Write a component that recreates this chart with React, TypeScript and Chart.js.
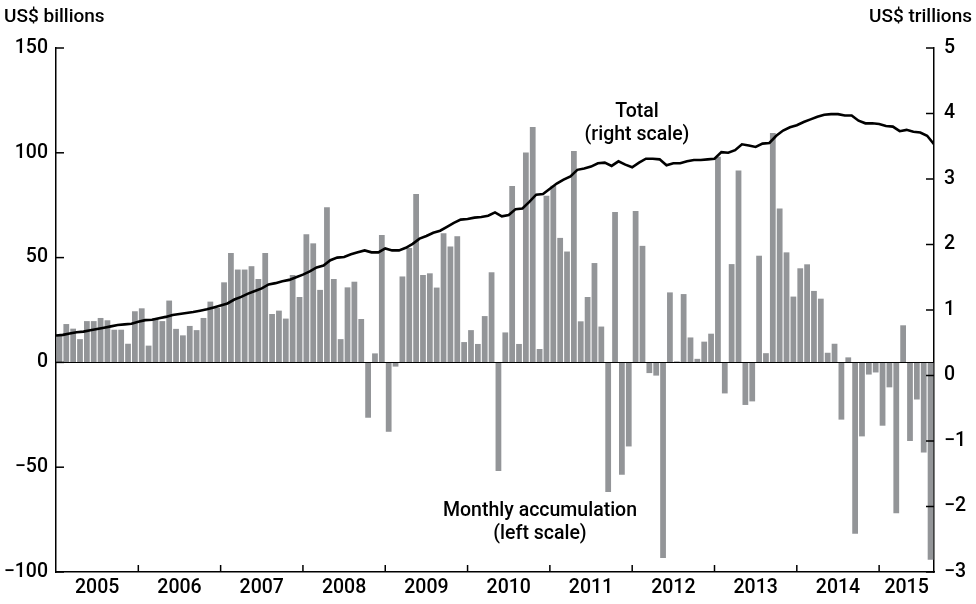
import React, { useEffect, useRef } from "react";
import { Chart, registerables } from "chart.js";

Chart.register(...registerables);

// Year labels (x axis); data starts Jan 2005, ends Aug 2015
const years = ["2005", "2006", "2007", "2008", "2009", "2010", "2011", "2012", "2013", "2014", "2015"];

// Monthly accumulation, US$ billions (left scale), Jan 2005 .. Aug 2015
const monthly2005 = [12.7, 18.3, 16.1, 11.1, 19.7, 19.7, 21.2, 20.1, 15.6, 15.6, 8.9, 24.4];
const monthly2006 = [25.8, 8.0, 21.0, 19.7, 29.5, 16.0, 12.9, 17.4, 15.4, 21.2, 29.0, 26.0];
const monthly2007 = [38.2, 52.2, 44.3, 44.3, 45.9, 39.8, 52.2, 23.1, 24.7, 20.9, 41.7, 31.2];
const monthly2008 = [61.1, 56.8, 34.6, 74.0, 39.8, 11.1, 35.8, 38.5, 20.7, -26.4, 4.3, 60.8];
const monthly2009 = [-33.1, -2.0, 41.0, 54.6, 80.3, 41.7, 42.5, 35.7, 61.6, 55.3, 60.2, 9.7];
const monthly2010 = [15.4, 8.8, 22.1, 43.0, -51.8, 14.3, 84.2, 8.8, 100.2, 112.3, 6.4, 79.5];
const monthly2011 = [84.3, 59.4, 52.9, 100.9, 19.6, 31.2, 47.4, 17.1, -61.8, 71.7, -53.6, -40.1];
const monthly2012 = [72.2, 55.6, -5.1, -6.3, -93.3, 33.4, 0.5, 32.6, 11.9, 1.7, 9.9, 13.7];
const monthly2013 = [98.1, -14.8, 46.9, 91.6, -20.3, -18.6, 50.9, 4.4, 109.4, 73.4, 52.5, 31.4];
const monthly2014 = [44.9, 46.8, 34.1, 30.4, 4.6, 8.9, -27.3, 2.4, -81.7, -35.3, -5.8, -4.8];
const monthly2015 = [-30.2, -11.9, -72.0, 17.7, -37.5, -17.7, -43.0, -94.2];

// Total reserves, US$ trillions (right scale): level at end of Dec 2004, then month-end levels
const totalStart = 0.61;
const total2005 = [0.62, 0.64, 0.66, 0.67, 0.69, 0.71, 0.73, 0.75, 0.77, 0.78, 0.79, 0.82];
const total2006 = [0.845, 0.85, 0.875, 0.895, 0.925, 0.94, 0.955, 0.97, 0.99, 1.01, 1.04, 1.07];
const total2007 = [1.10, 1.16, 1.20, 1.25, 1.29, 1.33, 1.39, 1.41, 1.44, 1.46, 1.50, 1.54];
const total2008 = [1.59, 1.65, 1.68, 1.76, 1.80, 1.81, 1.85, 1.88, 1.91, 1.88, 1.88, 1.94];
const total2009 = [1.91, 1.91, 1.95, 2.01, 2.09, 2.13, 2.18, 2.21, 2.27, 2.33, 2.38, 2.39];
const total2010 = [2.41, 2.42, 2.44, 2.49, 2.43, 2.45, 2.54, 2.55, 2.65, 2.76, 2.77, 2.85];
const total2011 = [2.93, 2.99, 3.04, 3.14, 3.16, 3.19, 3.24, 3.25, 3.20, 3.27, 3.22, 3.18];
const total2012 = [3.25, 3.31, 3.31, 3.30, 3.21, 3.24, 3.24, 3.27, 3.29, 3.29, 3.30, 3.31];
const total2013 = [3.41, 3.40, 3.44, 3.53, 3.51, 3.49, 3.54, 3.55, 3.66, 3.74, 3.79, 3.82];
const total2014 = [3.87, 3.91, 3.95, 3.98, 3.99, 3.99, 3.97, 3.97, 3.89, 3.85, 3.85, 3.84];
const total2015 = [3.81, 3.80, 3.73, 3.75, 3.72, 3.71, 3.66, 3.53];

const leftTicks = [-100, -50, 0, 50, 100, 150];
const rightTicks = [-3, -2, -1, 0, 1, 2, 3, 4, 5];

const monthly = [
  ...monthly2005, ...monthly2006, ...monthly2007, ...monthly2008, ...monthly2009, ...monthly2010,
  ...monthly2011, ...monthly2012, ...monthly2013, ...monthly2014, ...monthly2015,
];
const totals = [
  ...total2005, ...total2006, ...total2007, ...total2008, ...total2009, ...total2010,
  ...total2011, ...total2012, ...total2013, ...total2014, ...total2015,
];

const FONT = "Roboto, 'Noto Sans', sans-serif";
const BAR_COLOR = "#939598";
const fmt = (v: number) => (v < 0 ? "\u2212" + Math.abs(v) : String(v));

export default function App() {
  const ref = useRef<HTMLCanvasElement | null>(null);

  useEffect(() => {
    const n = monthly.length;
    const yearCenters = years.map((_, k) => {
      const start = k * 12;
      const end = Math.min(n, start + 12);
      return (start + end - 1) / 2;
    });
    const yearBounds = years.slice(1).map((_, k) => (k + 1) * 12 - 0.5);

    const barData = monthly.map((v, i) => ({ x: i, y: v }));
    const lineData = [{ x: -0.5, y: totalStart }, ...totals.map((v, i) => ({ x: i + 0.5, y: v }))];

    const overlay = {
      id: "overlay",
      afterDatasetsDraw(chart: any) {
        const { ctx, chartArea, scales } = chart;
        const yl = scales.y;
        ctx.save();
        ctx.strokeStyle = "#000";
        ctx.lineWidth = 1;
        const y0 = Math.round(yl.getPixelForValue(0)) + 0.5;
        ctx.beginPath();
        ctx.moveTo(chartArea.left, y0);
        ctx.lineTo(chartArea.right, y0);
        ctx.stroke();
        ctx.restore();
      },
      afterDraw(chart: any) {
        const { ctx, chartArea, scales } = chart;
        const xs = scales.x, yl = scales.y, yr = scales.y2;
        ctx.save();
        ctx.strokeStyle = "#000";
        ctx.lineWidth = 1.5;
        leftTicks.forEach((v) => {
          const y = yl.getPixelForValue(v);
          ctx.beginPath();
          ctx.moveTo(chartArea.left, y);
          ctx.lineTo(chartArea.left + 8, y);
          ctx.stroke();
        });
        rightTicks.forEach((v) => {
          const y = yr.getPixelForValue(v);
          ctx.beginPath();
          ctx.moveTo(chartArea.right, y);
          ctx.lineTo(chartArea.right - 8, y);
          ctx.stroke();
        });
        yearBounds.forEach((v) => {
          const x = xs.getPixelForValue(v);
          ctx.beginPath();
          ctx.moveTo(x, chartArea.bottom);
          ctx.lineTo(x, chartArea.bottom - 7);
          ctx.stroke();
        });
        ctx.fillStyle = "#000";
        ctx.textBaseline = "middle";
        ctx.font = `500 19px ${FONT}`;
        ctx.textAlign = "left";
        ctx.fillText("US$ billions", 4, 17);
        ctx.textAlign = "right";
        ctx.fillText("US$ trillions", 972, 17);
        ctx.textAlign = "center";
        ctx.font = `500 19.5px ${FONT}`;
        ctx.fillText("Total", 637, 112);
        ctx.fillText("(right scale)", 637, 135);
        ctx.fillText("Monthly accumulation", 540, 511);
        ctx.fillText("(left scale)", 540, 534);
        ctx.restore();
      },
    };

    const tickFont = { family: FONT, size: 19.5, weight: 500 as any };

    const chart = new Chart(ref.current as HTMLCanvasElement, {
      type: "bar",
      data: {
        datasets: [
          {
            type: "line",
            data: lineData,
            xAxisID: "x",
            yAxisID: "y2",
            borderColor: "#000",
            borderWidth: 2.6,
            pointRadius: 0,
            tension: 0,
            fill: false,
            order: 0,
          } as any,
          {
            type: "bar",
            data: barData,
            xAxisID: "x",
            yAxisID: "y",
            backgroundColor: BAR_COLOR,
            borderWidth: 0,
            barPercentage: 0.84,
            categoryPercentage: 1,
            order: 1,
          } as any,
        ],
      },
      options: {
        animation: false,
        responsive: false,
        maintainAspectRatio: false,
        layout: { padding: { top: 48, left: 0, right: 0, bottom: 0 } },
        plugins: { legend: { display: false }, tooltip: { enabled: false } },
        scales: {
          x: {
            type: "linear",
            position: "bottom",
            min: -0.5,
            max: n - 0.5,
            offset: false,
            grid: { display: false, drawTicks: false },
            border: { display: true, color: "#000", width: 1.5 },
            ticks: {
              padding: 4,
              color: "#000",
              font: tickFont,
              autoSkip: false,
              maxRotation: 0,
              callback: (v: any) => {
                const k = yearCenters.indexOf(Number(v));
                return k >= 0 ? years[k] : "";
              },
            },
            afterBuildTicks: (s: any) => {
              s.ticks = yearCenters.map((v) => ({ value: v }));
            },
            afterFit: (s: any) => {
              s.height = 32;
            },
          } as any,
          y: {
            position: "left",
            min: -100,
            max: 150,
            grid: { display: false, drawTicks: false },
            border: { display: true, color: "#000", width: 1.5 },
            ticks: {
              stepSize: 50,
              padding: 8,
              color: "#000",
              font: tickFont,
              callback: (v: any) => fmt(Number(v)),
            },
            afterFit: (s: any) => {
              s.width = 56;
            },
          } as any,
          y2: {
            position: "right",
            min: -3,
            max: 5,
            grid: { display: false, drawTicks: false },
            border: { display: true, color: "#000", width: 1.5 },
            ticks: {
              stepSize: 1,
              padding: 10,
              color: "#000",
              font: tickFont,
              callback: (v: any) => fmt(Number(v)),
            },
            afterFit: (s: any) => {
              s.width = 42;
            },
          } as any,
        },
      },
      plugins: [overlay],
    });
    return () => chart.destroy();
  }, []);

  return (
    <div style={{ position: "absolute", left: 0, top: 0, width: 976, height: 604, background: "#fff" }}>
      <canvas ref={ref} width={976} height={604} style={{ display: "block" }} />
    </div>
  );
}
